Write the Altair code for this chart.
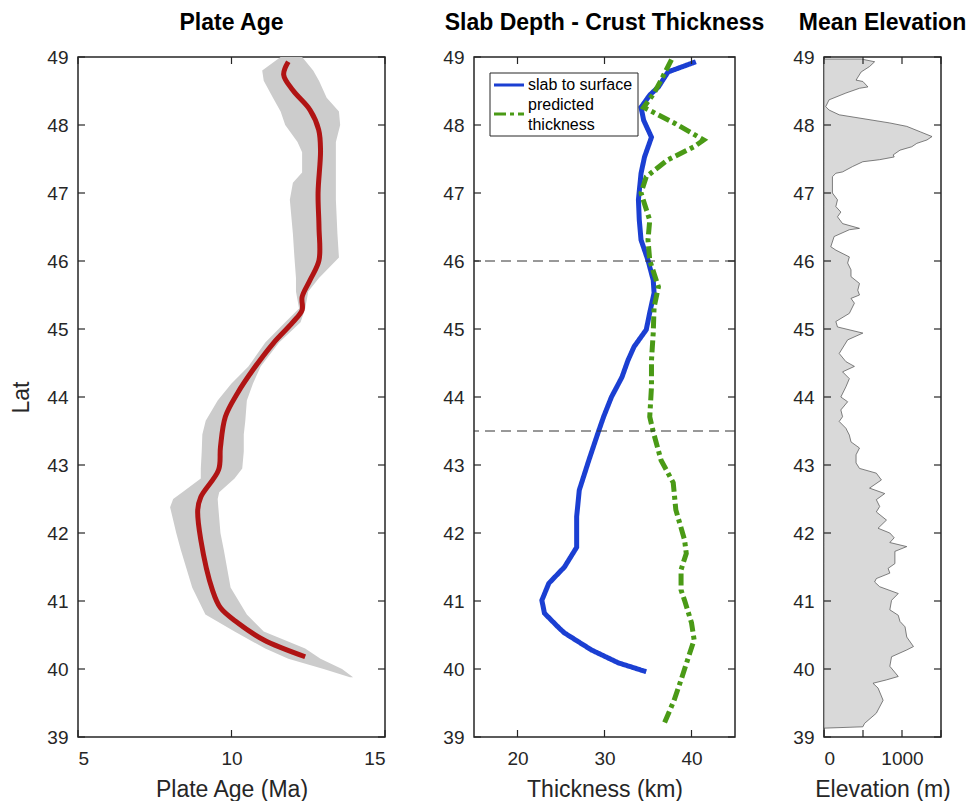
import altair as alt
import pandas as pd

# ---------------- Plate age (Ma) along the margin ----------------
age_lat = [48.93, 48.74, 48.51, 48.22, 47.93, 47.63, 47.0, 46.5, 46.01, 45.72,
           45.47, 45.28, 45.1, 44.79, 44.4, 44.06, 43.71, 43.26, 42.93, 42.53,
           42.34, 41.9, 41.16, 40.9, 40.68, 40.43, 40.18]
age_mean = [11.85, 11.7, 12.0, 12.56, 12.84, 12.9, 12.82, 12.85, 12.85, 12.56,
            12.3, 12.3, 12.0, 11.36, 10.7, 10.2, 9.8, 9.64, 9.58, 9.0,
            8.9, 9.0, 9.38, 9.64, 10.2, 11.04, 12.4]

band_lat = [49.0, 48.8, 48.65, 48.4, 48.2, 48.0, 47.75, 47.6, 47.3, 47.15,
            46.9, 46.4, 46.05, 45.75, 45.55, 45.3, 45.1, 44.8, 44.45, 44.2,
            43.95, 43.65, 43.45, 43.2, 42.95, 42.8, 42.6, 42.5, 42.38, 42.0,
            41.75, 41.2, 40.8, 40.55, 40.3, 40.15, 40.0, 39.88]
band_lo = [11.6, 11.0, 11.05, 11.35, 11.6, 11.75, 12.15, 12.3, 12.3, 12.0,
           11.9, 12.0, 12.05, 12.1, 12.1, 12.2, 11.75, 11.1, 10.55, 10.0,
           9.55, 9.16, 9.05, 9.03, 9.0, 9.0, 8.4, 8.1, 8.0, 8.2,
           8.35, 8.72, 9.15, 10.1, 11.1, 11.85, 13.0, 13.86]
band_hi = [12.3, 12.66, 12.85, 13.1, 13.5, 13.54, 13.4, 13.4, 13.4, 13.4,
           13.4, 13.45, 13.5, 12.85, 12.5, 12.4, 12.25, 11.55, 10.95, 10.7,
           10.5, 10.45, 10.4, 10.4, 10.35, 10.1, 9.6, 9.55, 9.57, 9.64,
           9.75, 9.97, 10.5, 11.05, 12.4, 12.9, 13.6, 13.96]

# ---------------- Slab depth and predicted crust thickness (km) ----------------
slab_lat = [48.93, 48.78, 48.56, 48.44, 48.26, 48.07, 47.82, 47.53, 47.29, 46.9,
            46.6, 46.31, 46.01, 45.72, 45.53, 45.24, 44.99, 44.74, 44.54, 44.29,
            44.0, 43.71, 43.49, 43.07, 42.63, 42.24, 41.79, 41.5, 41.26, 41.01,
            40.82, 40.6, 40.53, 40.28, 40.09, 39.96]
slab_km = [40.5, 37.3, 36.2, 35.2, 34.2, 34.5, 35.4, 34.6, 34.2, 33.9,
           34.0, 34.2, 35.0, 35.6, 35.7, 35.2, 34.8, 33.4, 32.7, 32.0,
           30.8, 29.9, 29.3, 28.2, 27.1, 26.8, 26.8, 25.4, 23.6, 22.8,
           23.1, 24.8, 25.4, 28.5, 31.6, 34.8]

pred_lat = [48.96, 48.66, 48.47, 48.26, 48.03, 47.78, 47.68, 47.49, 47.24, 47.0,
            46.6, 46.31, 46.01, 45.62, 45.32, 44.94, 44.54, 44.15, 43.71, 43.49,
            43.07, 42.74, 42.34, 41.9, 41.7, 41.46, 41.16, 41.01, 40.68, 40.43,
            39.84, 39.54, 39.18]
pred_km = [37.7, 36.5, 35.7, 34.5, 38.0, 41.4, 40.3, 37.3, 34.8, 34.2,
           35.2, 35.0, 35.2, 36.2, 35.7, 35.6, 35.4, 35.4, 35.2, 35.6,
           36.5, 37.9, 38.2, 39.2, 39.4, 38.8, 38.8, 39.2, 40.0, 40.3,
           38.8, 38.0, 36.8]

ref_lat = [46.0, 43.5]

# ---------------- Mean elevation (m) ----------------
elev_lat = [48.97, 48.93, 48.86, 48.78, 48.66, 48.64, 48.56, 48.54, 48.47, 48.37,
            48.27, 48.22, 48.15, 48.07, 48.03, 47.98, 47.90, 47.83, 47.78, 47.73,
            47.68, 47.63, 47.56, 47.53, 47.49, 47.46, 47.39, 47.31, 47.29, 47.24,
            47.0, 46.90, 46.80, 46.72, 46.65, 46.55, 46.48, 46.46, 46.36, 46.21,
            46.16, 46.06, 45.97, 45.87, 45.77, 45.67, 45.57, 45.50, 45.45, 45.38,
            45.23, 45.11, 45.03, 44.94, 44.84, 44.64, 44.52, 44.45, 44.37, 44.27,
            44.15, 44.0, 43.93, 43.81, 43.71, 43.64, 43.54, 43.44, 43.34, 43.25,
            43.15, 43.03, 42.95, 42.88, 42.78, 42.66, 42.58, 42.49, 42.39, 42.31,
            42.19, 42.07, 42.0, 41.93, 41.86, 41.80, 41.73, 41.55, 41.48, 41.41,
            41.33, 41.28, 41.21, 41.11, 41.01, 40.87, 40.79, 40.70, 40.62, 40.47,
            40.33, 40.28, 40.18, 40.04, 39.89, 39.84, 39.79, 39.72, 39.54, 39.35,
            39.20, 39.15, 39.13]
elev_m = [480, 649, 584, 476, 411, 498, 563, 455, 281, 65,
          22, 65, 195, 628, 844, 1061, 1234, 1385, 1320, 1190,
          1125, 974, 887, 900, 714, 498, 368, 238, 152, 108,
          108, 173, 152, 216, 173, 238, 455, 325, 130, 87,
          152, 325, 303, 346, 346, 455, 433, 455, 346, 390,
          325, 152, 173, 498, 303, 195, 281, 390, 238, 325,
          281, 216, 303, 216, 238, 195, 281, 325, 346, 455,
          411, 411, 455, 671, 736, 584, 779, 671, 714, 671,
          801, 693, 844, 900, 844, 1061, 909, 909, 822, 844,
          671, 649, 714, 952, 866, 844, 952, 974, 1039, 1061,
          1147, 1061, 866, 844, 952, 801, 628, 693, 758, 671,
          520, 498, 0]

# ---------------- Axis ticks ----------------
lat_ticks = list(range(39, 50))
age_ticks = [5, 10, 15]
thick_ticks = [20, 30, 40]
elev_ticks = [0, 500, 1000, 1500]
elev_labels = [0, 1000]

FONT = "Liberation Sans"
AX = "#262626"
RED = "#B01414"
BAND = "#CCCCCC"
BLUE = "#1B3FD2"
GREEN = "#4A9A16"

H = 680
TICK = 7

lat_scale = alt.Scale(domain=[39, 49], nice=False, zero=False)


def y_axis(title=None):
    if title:
        return alt.Axis(values=lat_ticks, format="d", labelPadding=10,
                        title=title, titlePadding=13)
    return alt.Axis(values=lat_ticks, format="d", labelPadding=10, title=None)


def x_axis(values, title):
    return alt.Axis(values=values, format="d", labelPadding=12,
                    title=title, titlePadding=10)


def inner_ticks(x_scale, x_values, width, yax, xax):
    """Inward-pointing box ticks on all four sides of a panel."""
    ydf = pd.DataFrame({"v": lat_ticks})
    xdf = pd.DataFrame({"v": x_values})
    ry = alt.Chart(ydf).mark_rule(color=AX, strokeWidth=1.2)
    rx = alt.Chart(xdf).mark_rule(color=AX, strokeWidth=1.2)
    yv = alt.Y("v:Q", scale=lat_scale, axis=yax)
    xv = alt.X("v:Q", scale=x_scale, axis=xax)
    return [
        ry.encode(y=yv, x=alt.value(0), x2=alt.value(TICK)),
        ry.encode(y=yv, x=alt.value(width - TICK), x2=alt.value(width)),
        rx.encode(x=xv, y=alt.value(0), y2=alt.value(TICK)),
        rx.encode(x=xv, y=alt.value(H - TICK), y2=alt.value(H)),
    ]


# ---- Panel 1: plate age ----
W1 = 307
age_scale = alt.Scale(domain=[5, 15], nice=False, zero=False)
ax1_y = y_axis("Lat")
ax1_x = x_axis(age_ticks, "Plate Age (Ma)")
band_df = pd.DataFrame({"lat": band_lat, "lo": band_lo, "hi": band_hi})
age_df = pd.DataFrame({"lat": age_lat, "age": age_mean})

band = alt.Chart(band_df).mark_area(orient="horizontal", color=BAND).encode(
    y=alt.Y("lat:Q", scale=lat_scale, axis=ax1_y),
    x=alt.X("lo:Q", scale=age_scale, axis=ax1_x),
    x2="hi:Q",
)
age_line = alt.Chart(age_df).mark_line(
    color=RED, strokeWidth=5, interpolate="catmull-rom", strokeCap="butt"
).encode(
    y=alt.Y("lat:Q", scale=lat_scale, axis=ax1_y),
    x=alt.X("age:Q", scale=age_scale, axis=ax1_x),
    order=alt.Order("lat:Q", sort="descending"),
)
panel1 = alt.layer(
    band, age_line, *inner_ticks(age_scale, age_ticks, W1, ax1_y, ax1_x)
).properties(width=W1, height=H, title="Plate Age")

# ---- Panel 2: slab depth and crust thickness ----
W2 = 261
km_scale = alt.Scale(domain=[15, 45], nice=False, zero=False)
ax2_y = y_axis()
ax2_x = x_axis(thick_ticks, "Thickness (km)")
series_names = ["slab to surface", "predicted thickness"]
legend_lines = ["slab to surface", "predicted", "thickness"]
thick_df = pd.concat([
    pd.DataFrame({"lat": slab_lat, "km": slab_km, "series": series_names[0]}),
    pd.DataFrame({"lat": pred_lat, "km": pred_km, "series": series_names[1]}),
], ignore_index=True)

color_scale = alt.Scale(domain=series_names, range=[BLUE, GREEN])
dash_scale = alt.Scale(domain=series_names, range=[[1, 0], [12, 4, 4, 4]])

thick_lines = alt.Chart(thick_df).mark_line(strokeWidth=5, strokeCap="butt").encode(
    y=alt.Y("lat:Q", scale=lat_scale, axis=ax2_y),
    x=alt.X("km:Q", scale=km_scale, axis=ax2_x),
    color=alt.Color("series:N", scale=color_scale, legend=None),
    strokeDash=alt.StrokeDash("series:N", scale=dash_scale, legend=None),
    order=alt.Order("lat:Q", sort="descending"),
)
ref_rules = alt.Chart(pd.DataFrame({"lat": ref_lat})).mark_rule(
    color="#333333", strokeWidth=1, strokeDash=[10, 6]
).encode(y=alt.Y("lat:Q", scale=lat_scale, axis=ax2_y))

# legend box drawn inside the panel
LX0, LX1, LY0, LY1 = 16, 164, 16, 79
legend_box = alt.Chart(pd.DataFrame({"k": [0]})).mark_rect(
    fill="white", stroke=AX, strokeWidth=1
).encode(x=alt.value(LX0), x2=alt.value(LX1), y=alt.value(LY0), y2=alt.value(LY1))
legend_keys = alt.Chart(pd.DataFrame({"series": series_names, "row": [28, 57]})).mark_rule(
    strokeWidth=3, strokeCap="butt"
).encode(
    x=alt.value(LX0 + 4), x2=alt.value(LX0 + 34),
    y=alt.Y("row:Q", scale=None),
    color=alt.Color("series:N", scale=color_scale, legend=None),
    strokeDash=alt.StrokeDash("series:N", scale=dash_scale, legend=None),
)
legend_text = alt.Chart(pd.DataFrame({"t": legend_lines, "row": [28, 48, 68]})).mark_text(
    align="left", baseline="middle", font=FONT, fontSize=16, color="black"
).encode(
    x=alt.value(LX0 + 38),
    y=alt.Y("row:Q", scale=None),
    text="t:N",
)

panel2 = alt.layer(
    thick_lines, ref_rules, *inner_ticks(km_scale, thick_ticks, W2, ax2_y, ax2_x),
    legend_box, legend_keys, legend_text,
).properties(width=W2, height=H, title="Slab Depth - Crust Thickness")

# ---- Panel 3: mean elevation ----
W3 = 117
elev_scale = alt.Scale(domain=[0, 1500], nice=False, zero=True)
ax3_y = y_axis()
ax3_x = x_axis(elev_labels, "Elevation (m)")
elev_df = pd.DataFrame({"lat": elev_lat, "elev": elev_m})
elev_area = alt.Chart(elev_df).mark_area(
    orient="horizontal", fill="#D9D9D9", stroke="#4D4D4D", strokeWidth=0.7
).encode(
    y=alt.Y("lat:Q", scale=lat_scale, axis=ax3_y),
    x=alt.X("elev:Q", scale=elev_scale, stack=None, axis=ax3_x),
)
panel3 = alt.layer(
    elev_area, *inner_ticks(elev_scale, elev_ticks, W3, ax3_y, ax3_x)
).properties(width=W3, height=H, title="Mean Elevation")

chart = alt.hconcat(panel1, panel2, panel3, spacing=89, bounds="flush").properties(
    padding={"left": 10, "top": 11, "right": 1, "bottom": 0}
).configure_axis(
    labelFont=FONT, titleFont=FONT, labelFontSize=19, titleFontSize=23,
    labelColor=AX, titleColor=AX, titleFontWeight="normal",
    domain=False, ticks=False, grid=False,
).configure_view(
    stroke=AX, strokeWidth=1.5
).configure_title(
    font=FONT, fontSize=23, fontWeight="bold", color="black", offset=13, anchor="middle"
)

chart.save("out.html", embed_options={"renderer": "svg", "actions": False})
